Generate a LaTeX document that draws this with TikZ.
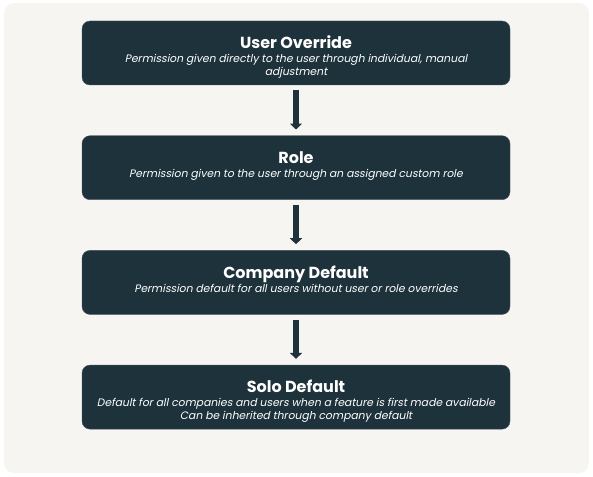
\documentclass[tikz,border=0pt]{standalone}
\usepackage{fontspec}
\setmainfont{Poppins}
\newfontfamily\dscfont{Poppins}[FakeSlant=0.2]
\usetikzlibrary{positioning,arrows.meta}
\definecolor{boxcol}{HTML}{1D323A}
\definecolor{bgcol}{HTML}{F7F5F2}
\tikzset{
  level/.style={draw=boxcol!85!white, fill=boxcol, rounded corners=8pt, minimum width=428pt, minimum height=64pt, inner sep=0pt},
  ttl/.style={text=white, font=\fontsize{16}{18}\selectfont\bfseries, anchor=base, inner sep=0pt},
  dsc/.style={text=white, font=\fontsize{10.8}{13}\selectfont\dscfont, align=center, anchor=north, inner sep=0pt},
  down/.style={boxcol, line width=6pt, -{Triangle[width=12pt,length=6pt]}, shorten <=5pt, shorten >=6pt}
}
\begin{document}
\begin{tikzpicture}
\useasboundingbox (0,0) rectangle (593pt,-476pt);
\fill[bgcol, rounded corners=10pt] (4pt,-3pt) rectangle (589pt,-473pt);
% the four levels, top one wins
\node[level] (user) at (296pt,-53pt) {};
\node[level, below=50.3pt of user] (role) {};
\node[level, below=50.3pt of role] (comp) {};
\node[level, below=50.3pt of comp] (solo) {};
\node[ttl] (usert) at ([yshift=-28pt]user.north) {User Override};
\node[dsc] (userd) at ([yshift=-33.5pt]user.north) {Permission given directly to the user through individual, manual\\adjustment};
\node[ttl] (rolet) at ([yshift=-28pt]role.north) {Role};
\node[dsc] (roled) at ([yshift=-33.5pt]role.north) {Permission given to the user through an assigned custom role};
\node[ttl] (compt) at ([yshift=-28pt]comp.north) {Company Default};
\node[dsc] (compd) at ([yshift=-33.5pt]comp.north) {Permission default for all users without user or role overrides};
\node[ttl] (solot) at ([yshift=-28pt]solo.north) {Solo Default};
\node[dsc] (solod) at ([yshift=-33.5pt]solo.north) {Default for all companies and users when a feature is first made available\\Can be inherited through company default};
% arrows
\draw[down] (user) -- (role);
\draw[down] (role) -- (comp);
\draw[down] (comp) -- (solo);
\end{tikzpicture}
\end{document}
